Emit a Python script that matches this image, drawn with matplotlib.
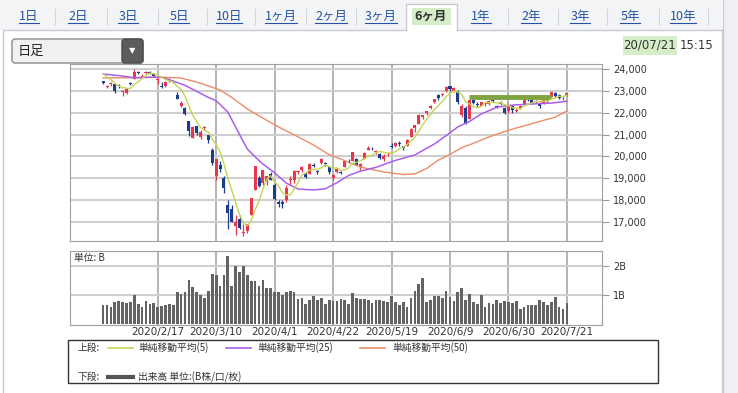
import numpy as np
import pandas as pd
import matplotlib
matplotlib.use('Agg')
import matplotlib.pyplot as plt
from matplotlib.patches import Rectangle, FancyBboxPatch
from matplotlib.ticker import FuncFormatter

plt.rcParams['font.family'] = ['Noto Sans CJK JP', 'DejaVu Sans']

W, H = 738, 393

# --- data (daily, 2020/1/27 .. 2020/7/21, 120 trading days) ---
prior_close = [23864, 24031, 23795, 23827]  # 1/21..1/24, only for the 5-day average

opens = [23431, 23161, 23308, 23307, 23255, 22942, 22904, 23361, 23538, 23865,
         23650, 23810, 23860, 23780, 23507, 23230, 23200, 23500, 23417, 22825,
         22300, 22200, 21600, 20850, 21400, 20900, 21300, 21000, 20300, 19100,
         19600, 19000, 17800, 17586, 16800, 17154, 16500, 16570, 17300, 18446,
         19000, 18800, 18885, 19200, 18700, 17900, 17900, 18000, 18900, 18900,
         19300, 19400, 19200, 19200, 19600, 19300, 19700, 19700, 19500, 19000,
         19300, 19300, 19500, 19800, 19800, 19900, 19500, 19900, 20300, 20400,
         20200, 20100, 19900, 20100, 20500, 20500, 20600, 20500, 20500, 20900,
         21300, 21500, 21800, 22000, 22200, 22500, 22800, 22800, 23000, 23200,
         23000, 23000, 21900, 22200, 21700, 22600, 22400, 22300, 22400, 22400,
         22600, 22300, 22400, 22200, 22100, 22300, 22100, 22200, 22400, 22700,
         22600, 22500, 22450, 22400, 22700, 22700, 22900, 22800, 22700, 22800]
highs = [23441, 23256, 23395, 23307, 23336, 23049, 23124, 23415, 23995, 23893,
         23751, 23900, 23900, 23806, 23570, 23400, 23450, 23600, 23430, 22950,
         22550, 22250, 21640, 21400, 21400, 21200, 21400, 21000, 20400, 19900,
         19800, 19100, 18000, 17785, 17300, 17300, 16900, 16900, 18100, 19564,
         19100, 19400, 19100, 19300, 18800, 18000, 18000, 18700, 19100, 19400,
         19400, 19550, 19300, 19700, 19700, 19400, 19950, 19750, 19550, 19200,
         19450, 19350, 19800, 19900, 20200, 19950, 19700, 20200, 20500, 20450,
         20300, 20150, 20100, 20200, 20600, 20650, 20700, 20500, 20800, 21300,
         21450, 21950, 21900, 22100, 22350, 22650, 22850, 22900, 23200, 23200,
         23185, 23050, 22400, 22300, 22600, 22700, 22500, 22500, 22500, 22600,
         22650, 22350, 22550, 22250, 22300, 22350, 22200, 22350, 22750, 22750,
         22650, 22600, 22500, 22800, 22700, 22950, 22950, 22850, 22750, 22900]
lows = [23298, 23115, 23236, 22892, 23148, 22775, 22869, 23280, 23536, 23755,
        23628, 23790, 23790, 23616, 23335, 23145, 23190, 23400, 23350, 22605,
        22265, 21900, 20917, 20850, 21000, 20800, 21200, 20600, 19600, 18900,
        19300, 18339, 16690, 17002, 16400, 16700, 16358, 16480, 17300, 18446,
        18600, 18700, 18700, 18900, 18000, 17700, 17650, 17900, 18700, 18800,
        19200, 19300, 19000, 19200, 19500, 19200, 19650, 19550, 19200, 18900,
        19250, 19200, 19500, 19700, 19800, 19600, 19400, 19900, 20300, 20300,
        20100, 19900, 19800, 20000, 20400, 20450, 20500, 20300, 20500, 20900,
        21100, 21500, 21700, 21900, 22150, 22450, 22600, 22750, 22950, 23000,
        22950, 22400, 21800, 21500, 21700, 22400, 22250, 22300, 22300, 22350,
        22500, 22200, 22350, 21950, 22000, 22000, 22050, 22150, 22400, 22550,
        22400, 22450, 22200, 22400, 22450, 22700, 22700, 22650, 22600, 22750]
closes = [23343, 23215, 23379, 22977, 23205, 22971, 23084, 23319, 23873, 23827,
          23685, 23861, 23827, 23687, 23523, 23193, 23400, 23479, 23386, 22605,
          22426, 21948, 21142, 21344, 21082, 21100, 21329, 20749, 19698, 19867,
          19416, 18559, 17431, 17002, 17011, 16726, 16552, 16887, 18092, 19546,
          18664, 19389, 19084, 18917, 18065, 17818, 17820, 18576, 18950, 19353,
          19345, 19498, 19043, 19638, 19550, 19290, 19897, 19669, 19281, 19137,
          19429, 19262, 19783, 19772, 20193, 19619, 19674, 20179, 20390, 20366,
          20267, 19914, 20037, 20133, 20433, 20595, 20552, 20388, 20741, 21271,
          21419, 21916, 21877, 22062, 22325, 22613, 22695, 22863, 23178, 23091,
          23124, 22473, 22305, 21530, 22582, 22455, 22355, 22478, 22437, 22549,
          22534, 22259, 22512, 21995, 22288, 22122, 22145, 22306, 22714, 22614,
          22438, 22529, 22291, 22784, 22587, 22945, 22770, 22696, 22717, 22884]
volume = [0.64, 0.66, 0.58, 0.75, 0.78, 0.75, 0.73, 0.75, 1.00, 0.68,
          0.58, 0.78, 0.68, 0.72, 0.58, 0.62, 0.64, 0.68, 0.64, 1.09,
          1.03, 1.09, 1.51, 1.28, 1.09, 1.01, 0.89, 1.14, 1.72, 1.68,
          1.31, 1.68, 2.33, 1.31, 2.00, 1.79, 2.00, 1.69, 1.48, 1.48,
          1.31, 1.51, 1.23, 1.23, 1.09, 1.11, 1.00, 1.09, 1.12, 1.09,
          0.87, 0.89, 0.68, 0.84, 0.96, 0.84, 0.89, 0.68, 0.83, 0.78,
          0.78, 0.87, 0.81, 0.70, 1.07, 0.89, 0.87, 0.87, 0.81, 0.72,
          0.83, 0.81, 0.78, 0.75, 0.96, 0.75, 0.64, 0.75, 0.58, 0.89,
          1.14, 1.37, 1.56, 0.75, 0.81, 0.96, 0.96, 0.90, 1.12, 0.94,
          0.78, 1.09, 1.23, 0.81, 1.03, 0.75, 0.70, 1.00, 0.58, 0.72,
          0.70, 0.83, 0.72, 0.78, 0.77, 0.72, 0.78, 0.53, 0.60, 0.64,
          0.66, 0.66, 0.81, 0.77, 0.64, 0.77, 0.92, 0.58, 0.53, 0.72]

# 25 / 50 day averages (day index, value)
ma25_idx = [0, 4, 8, 12, 15, 18, 21, 24, 27, 29, 32, 35, 37, 39, 41, 44, 47, 50, 54,
            57, 60, 63, 66, 70, 75, 80, 85, 88, 91, 94, 97, 101, 105, 110, 115, 119]
ma25_val = [23770, 23700, 23600, 23620, 23620, 23450, 23250, 22980, 22700, 22550, 22030,
            21000, 20340, 19980, 19650, 19250, 18780, 18510, 18465, 18520, 18800, 19130,
            19330, 19500, 19820, 20070, 20570, 20950, 21350, 21600, 21940, 22250, 22350,
            22400, 22440, 22530]
ma50_idx = [0, 7, 14, 20, 25, 30, 33, 37, 42, 46, 50, 54, 58, 61, 66, 72, 77, 80, 83,
            86, 88, 90, 92, 95, 99, 104, 108, 112, 116, 119]
ma50_val = [23590, 23600, 23630, 23590, 23350, 23040, 22700, 22170, 21650, 21255, 20900,
            20520, 20080, 19880, 19515, 19290, 19170, 19200, 19450, 19830, 20000, 20200,
            20400, 20600, 20890, 21200, 21400, 21600, 21800, 22080]

band_level = 22720
band_span = [94, 115]

grid_idx = [14, 29, 44, 59, 74, 89, 104, 119]
grid_labels = ['2020/2/17', '2020/3/10', '2020/4/1', '2020/4/22',
               '2020/5/19', '2020/6/9', '2020/6/30', '2020/7/21']
price_ticks = [17000, 18000, 19000, 20000, 21000, 22000, 23000, 24000]
vol_ticks = [1, 2]
vol_labels = ['1B', '2B']

tab_labels = ['1日', '2日', '3日', '5日', '10日', '1ヶ月', '2ヶ月', '3ヶ月',
              '6ヶ月', '1年', '2年', '3年', '5年', '10年']
selected_tab = '6ヶ月'
legend_row1 = ['単純移動平均(5)', '単純移動平均(25)', '単純移動平均(50)']
legend_row2 = '出来高 単位:(B株/口/枚)'

C_UP, C_DOWN = '#e8364a', '#1c3d8f'
C_MA5, C_MA25, C_MA50 = '#c4d651', '#ac5ee8', '#eb8d66'
C_VOL = '#636363'


def px(x0, y0, x1, y1):
    return [x0 / W, 1 - y1 / H, (x1 - x0) / W, (y1 - y0) / H]


fig = plt.figure(figsize=(W / 100, H / 100), dpi=100)
fig.patch.set_facecolor('white')

# page furniture
bg = fig.add_axes([0, 0, 1, 1])
bg.set_xlim(0, W)
bg.set_ylim(H, 0)
bg.axis('off')

bg.add_patch(Rectangle((0, 0), 722, 30, fc='#f3f4f6', ec='none'))
bg.add_patch(Rectangle((723, 0), 15, H, fc='#eef0f3', ec='none'))
edge = '#c8cbd0'
bg.plot([723, 723], [0, H], color=edge, lw=1)
bg.plot([3, 406], [30, 30], color=edge, lw=1)
bg.plot([457, 722], [30, 30], color=edge, lw=1)
bg.plot([3, 3], [30, H], color=edge, lw=1)
bg.plot([722, 722], [30, H], color=edge, lw=1)
bg.add_patch(Rectangle((406, 4), 51, 27, fc='white', ec='none'))
bg.plot([406, 406, 457, 457], [30, 4, 4, 30], color=edge, lw=1)
bg.add_patch(Rectangle((412, 8), 39, 17, fc='#d5eec8', ec='none'))

tab_x = [29, 78, 128, 179, 229, 281, 331, 381, 431, 481, 531, 580, 630, 683]
seps = [55, 107, 158, 207, 255, 306, 356, 508, 558, 607, 659, 708]
for x in seps:
    bg.plot([x, x], [9, 24], color='#d2d5da', lw=0.8)

tab_texts = []
for x, lab in zip(tab_x, tab_labels):
    if lab == selected_tab:
        bg.text(x, 16.5, lab, ha='center', va='center', fontsize=9,
                fontweight='bold', color='#333333')
    else:
        t = bg.text(x, 16.5, lab, ha='center', va='center', fontsize=9,
                    color='#2452a4')
        tab_texts.append(t)

# dropdown
bg.add_patch(FancyBboxPatch((12, 39), 131, 24, boxstyle='round,pad=0,rounding_size=3',
                            fc='#f1f1f1', ec='#8a8a8a', lw=1))
bg.add_patch(FancyBboxPatch((122, 39), 21, 24, boxstyle='round,pad=0,rounding_size=3',
                            fc='#5c5c5c', ec='#4a4a4a', lw=1))
bg.text(18, 51, '日足', ha='left', va='center', fontsize=9.5, color='#222222')
bg.text(132.5, 51, '▼', ha='center', va='center', fontsize=6, color='white',
        family=['DejaVu Sans'])

# timestamp
bg.add_patch(Rectangle((623, 36), 54, 19, fc='#d5eec8', ec='none'))
bg.text(650, 45.5, '20/07/21', ha='center', va='center', fontsize=8.5,
        color='#333333', family=['DejaVu Sans'])
bg.text(680, 45.5, '15:15', ha='left', va='center', fontsize=8.5,
        color='#333333', family=['DejaVu Sans'])

# legend box
bg.add_patch(Rectangle((68, 340), 590, 43, fc='white', ec='#333333', lw=1))
row1_y, row2_y = 347.5, 377
bg.text(77, row1_y, '上段:', ha='left', va='center', fontsize=7, color='#333333')
for lx, tx, lab, col in zip([108, 226, 360], [138, 257, 392], legend_row1,
                            [C_MA5, C_MA25, C_MA50]):
    bg.plot([lx, lx + 25], [row1_y, row1_y], color=col, lw=1.2)
    bg.text(tx, row1_y, lab, ha='left', va='center', fontsize=7, color='#333333')
bg.text(77, row2_y, '下段:', ha='left', va='center', fontsize=7, color='#333333')
bg.plot([108, 133], [row2_y, row2_y], color='#555555', lw=3)
bg.text(138, row2_y, legend_row2, ha='left', va='center', fontsize=7, color='#333333')

# price panel
days = np.arange(len(closes))
o = np.array(opens, dtype=float)
c = np.array(closes, dtype=float)
hi = np.array(highs, dtype=float)
lo = np.array(lows, dtype=float)
up = c >= o
cols = np.where(up, C_UP, C_DOWN)

ax1 = fig.add_axes(px(70, 64, 602, 241))
ax1.set_xlim(-8.5, 128)
ax1.set_ylim(16131, 24229)
ax1.vlines(days, lo, hi, colors=cols, lw=0.9, zorder=2)
ax1.bar(days, np.maximum(np.abs(c - o), 30), bottom=np.minimum(o, c),
        width=0.78, color=cols, zorder=3)

ma5 = pd.Series(prior_close + closes).rolling(5).mean().to_numpy()[len(prior_close):]
ax1.plot(band_span, [band_level, band_level], color='#7fa33e', lw=3.5,
         solid_capstyle='butt', zorder=4)
ax1.plot(ma50_idx, ma50_val, color=C_MA50, lw=1.0, zorder=4)
ax1.plot(ma25_idx, ma25_val, color=C_MA25, lw=1.1, zorder=4)
ax1.plot(days, ma5, color=C_MA5, lw=1.0, zorder=5)

ax1.set_xticks(grid_idx)
ax1.set_yticks(price_ticks)
ax1.yaxis.tick_right()
ax1.yaxis.set_major_formatter(FuncFormatter(lambda v, p: f'{int(v):,}'))
ax1.tick_params(axis='x', length=0, labelbottom=False)
ax1.tick_params(axis='y', length=5, color='#999999', labelsize=7,
                labelcolor='#333333', pad=3)
for lab in ax1.get_yticklabels():
    lab.set_family(['DejaVu Sans'])
ax1.xaxis.grid(True, color='#a8a8a8', lw=1.2)
ax1.yaxis.grid(True, color='#cfcfcf', lw=1.5)
ax1.set_axisbelow(True)
for s in ax1.spines.values():
    s.set_color('#a0a0a0')

# volume panel
ax2 = fig.add_axes(px(70, 251, 602, 325))
ax2.set_xlim(-8.5, 128)
ax2.set_ylim(-0.03, 2.5)
ax2.bar(days, volume, width=0.7, color=C_VOL, zorder=3)
ax2.set_xticks(grid_idx, grid_labels)
ax2.set_yticks(vol_ticks, vol_labels)
ax2.yaxis.tick_right()
ax2.tick_params(axis='x', length=0, labelsize=7.5, labelcolor='#333333', pad=1.5)
ax2.tick_params(axis='y', length=5, color='#999999', labelsize=7,
                labelcolor='#333333', pad=3)
for lab in ax2.get_xticklabels() + ax2.get_yticklabels():
    lab.set_family(['DejaVu Sans'])
ax2.xaxis.grid(True, color='#a8a8a8', lw=1.2)
ax2.yaxis.grid(True, color='#cfcfcf', lw=1.5)
ax2.set_axisbelow(True)
for s in ax2.spines.values():
    s.set_color('#a0a0a0')
ax2.text(0.008, 0.9, '単位: B', transform=ax2.transAxes, ha='left', va='center',
         fontsize=7, color='#333333')

# underline the tab links
fig.canvas.draw()
inv = bg.transData.inverted()
for t in tab_texts:
    bb = t.get_window_extent()
    (x0, y0), (x1, y1) = inv.transform([[bb.x0, bb.y0], [bb.x1, bb.y1]])
    yb = max(y0, y1) - 0.5
    bg.plot([x0, x1], [yb, yb], color='#2452a4', lw=0.8)

fig.savefig('out.png', dpi=100, facecolor='white')
